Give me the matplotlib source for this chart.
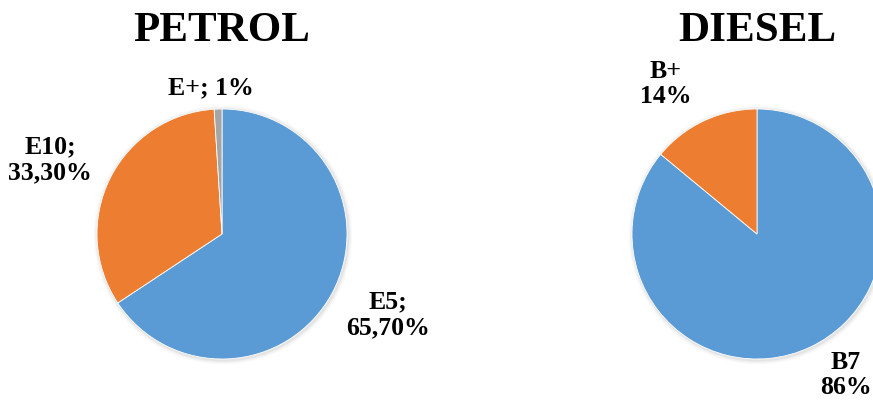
import matplotlib.pyplot as plt

plt.rcParams['font.family'] = ['Liberation Serif', 'DejaVu Serif']

# fuel shares
petrol_labels = ['E5', 'E10', 'E+']
petrol_values = [65.7, 33.3, 1.0]
petrol_texts = ['E5;\n65,70%', 'E10;\n33,30%', 'E+; 1%']

diesel_labels = ['B7', 'B+']
diesel_values = [86, 14]
diesel_texts = ['B7\n86%', 'B+\n14%']

colors = ['#5B9BD5', '#ED7D31', '#A5A5A5']

W, H = 873, 403
fig = plt.figure(figsize=(W / 100, H / 100), dpi=100)
ax = fig.add_axes([0, 0, 1, 1])
ax.set_xlim(0, W)
ax.set_ylim(0, H)
ax.set_aspect('equal')
ax.axis('off')

R = 125
centers = [(222, H - 234), (757, H - 234)]

for (cx, cy), vals in zip(centers, [petrol_values, diesel_values]):
    # soft shadow ring
    for k, a in enumerate([0.05, 0.035, 0.02]):
        ax.add_patch(plt.Circle((cx + 1, cy - 1), R + 1.5 + k * 1.5,
                                color='black', alpha=a, lw=0, zorder=0))
    ax.pie(vals, colors=colors[:len(vals)], startangle=90, counterclock=False,
           center=(cx, cy), radius=R, frame=True,
           wedgeprops=dict(linewidth=0.6, edgecolor='white'))

ax.set_xlim(0, W)
ax.set_ylim(0, H)
ax.axis('off')

title_kw = dict(fontsize=31, fontweight='bold', ha='center', va='center')
ax.text(222, H - 31, 'PETROL', **title_kw)
ax.text(757, H - 31, 'DIESEL', **title_kw)

label_kw = dict(fontsize=18.5, fontweight='bold', ha='center', va='center',
                linespacing=1.15)
petrol_pos = [(388, H - 315), (50, H - 160), (211, H - 88)]
diesel_pos = [(846, H - 375), (666, H - 84)]
for txt, (x, y) in zip(petrol_texts, petrol_pos):
    ax.text(x, y, txt, **label_kw)
for txt, (x, y) in zip(diesel_texts, diesel_pos):
    ax.text(x, y, txt, **label_kw)

fig.savefig('out.png', dpi=100)
